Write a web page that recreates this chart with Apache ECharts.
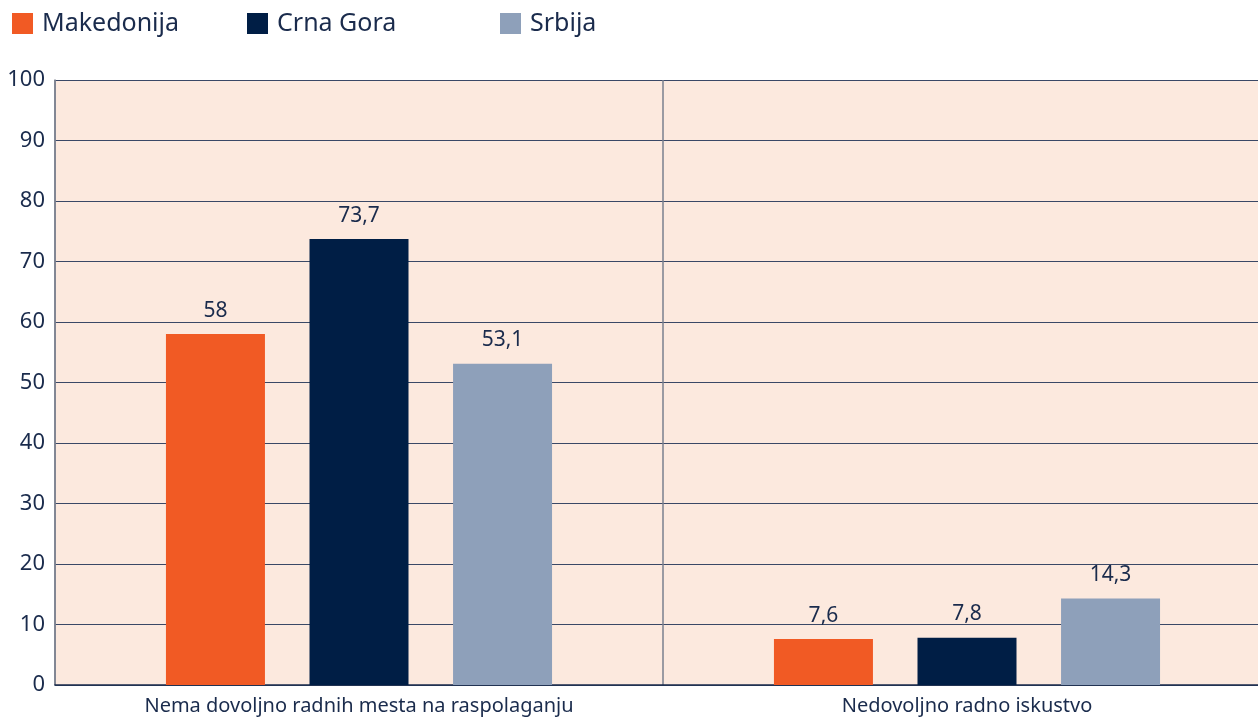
<!DOCTYPE html>
<html>
<head>
<meta charset="utf-8">
<script src="https://cdn.jsdelivr.net/npm/echarts@6/dist/echarts.min.js"></script>
<style>
  html, body { margin: 0; padding: 0; background: #fff; }
  #chart { width: 1258px; height: 721px; }
</style>
</head>
<body>
<div id="chart"></div>
<script>
  // podaci
  var categories = ['Nema dovoljno radnih mesta na raspolaganju', 'Nedovoljno radno iskustvo'];
  var makedonija = [58, 7.6];
  var crnaGora = [73.7, 7.8];
  var srbija = [53.1, 14.3];
  var seriesNames = ['Makedonija', 'Crna Gora', 'Srbija'];
  var colors = ['#f15a24', '#001e45', '#8ea0ba'];
  var legendLeft = [12, 247, 500];

  var textColor = '#1a2b4c';

  function makeSeries(name, data, color) {
    return {
      name: name,
      type: 'bar',
      data: data,
      barWidth: 99,
      barGap: '45%',
      itemStyle: { color: color },
      label: {
        show: true,
        position: 'top',
        distance: 13,
        color: textColor,
        fontSize: 21,
        fontFamily: 'Noto Sans',
        formatter: function (p) { return String(p.value).replace('.', ','); }
      }
    };
  }

  // svaka stavka legende posebno, zbog razmaka
  var legends = seriesNames.map(function (name, i) {
    return {
      data: [name],
      left: legendLeft[i],
      top: 11,
      padding: 0,
      itemWidth: 21,
      itemHeight: 21,
      icon: 'rect',
      textStyle: { color: textColor, fontSize: 25, fontFamily: 'Noto Sans', padding: [0, 0, 0, 4] }
    };
  });

  var myChart = echarts.init(document.getElementById('chart'));
  var option = {
    backgroundColor: '#ffffff',
    textStyle: { fontFamily: 'Noto Sans' },
    legend: legends,
    grid: {
      left: 55,
      width: 1216,
      top: 80,
      bottom: 36,
      outerBoundsMode: 'none',
      containLabel: false,
      show: true,
      backgroundColor: '#fce9de',
      borderWidth: 0
    },
    xAxis: {
      type: 'category',
      data: categories,
      axisTick: { show: false },
      axisLine: { lineStyle: { color: '#1a2b4c', width: 1.5 } },
      splitLine: { show: true, interval: 0, lineStyle: { color: '#7a7f8e', width: 1.5 } },
      axisLabel: { color: textColor, fontSize: 20, margin: 11, fontFamily: 'Noto Sans' }
    },
    yAxis: {
      type: 'value',
      min: 0,
      max: 100,
      interval: 10,
      axisLine: { show: true, lineStyle: { color: '#7a7f8e', width: 1.5 } },
      axisTick: { show: false },
      splitLine: { lineStyle: { color: '#3a4866', width: 1.2 } },
      axisLabel: { color: textColor, fontSize: 22, margin: 10, fontFamily: 'Noto Sans' }
    },
    series: [
      makeSeries(seriesNames[0], makedonija, colors[0]),
      makeSeries(seriesNames[1], crnaGora, colors[1]),
      makeSeries(seriesNames[2], srbija, colors[2])
    ]
  };
  myChart.setOption(option);
</script>
</body>
</html>
